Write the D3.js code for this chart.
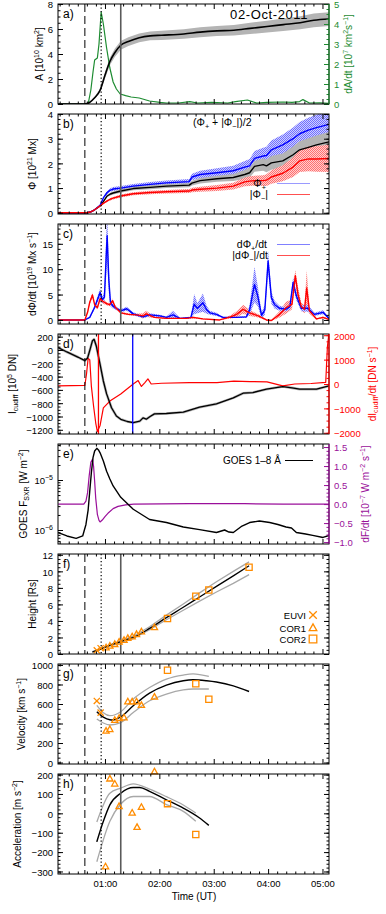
<!DOCTYPE html>
<html>
<head>
<meta charset="utf-8">
<style>
  body { margin: 0; background: #fff; }
  svg { display: block; font-family: "Liberation Sans", Arial, sans-serif; }
  .tick text { font-family: "Liberation Sans", Arial, sans-serif; font-size: 9.5px; }
  .ttl { font-size: 10px; }
  .tag { font-size: 12px; }
</style>
</head>
<body>
<svg id="chart" width="386" height="914"></svg>
<script src="https://d3js.org/d3.v7.min.js"></script>
<script>
// ---------------- data (times in hours UT, 02-Oct-2011) ----------------
const hourTicks = [1, 2, 3, 4, 5];
const hourLabels = ["01:00", "02:00", "03:00", "04:00", "05:00"];
const eventT = [0.63, 0.93, 1.29];        // dashed, dotted, solid grey
const dEventT = [0.63, 0.88, 1.51];       // dashed, red, blue (panel d)

// a) area A and dA/dt
const areaT = [0.14, 0.63, 0.71, 0.81, 0.91, 1.0, 1.09, 1.18, 1.29, 1.43, 1.63, 1.83, 2.04, 2.45, 2.75, 3.06, 3.37, 3.67, 3.98, 4.28, 4.59, 4.84, 5.12];
const areaA = [0, 0, 0.1, 0.5, 1.1, 2.3, 3.4, 4.1, 4.7, 5.0, 5.3, 5.45, 5.5, 5.6, 5.75, 5.85, 5.9, 6.05, 6.2, 6.35, 6.5, 6.7, 6.8];
const areaErr = [0, 0, 0.02, 0.08, 0.15, 0.25, 0.3, 0.33, 0.35, 0.35, 0.35, 0.35, 0.37, 0.38, 0.4, 0.4, 0.42, 0.45, 0.47, 0.5, 0.52, 0.55, 0.55];
const dadtT = [0.14, 0.69, 0.74, 0.78, 0.81, 0.86, 0.89, 0.93, 0.97, 1.03, 1.09, 1.15, 1.21, 1.28, 1.38, 1.48, 1.63, 1.82, 2.01, 2.13, 2.35, 2.56, 2.70, 2.96, 3.26, 3.40, 3.62, 3.79, 3.98, 4.28, 4.44, 4.58, 4.64, 4.76, 4.95, 5.12];
const dadtV = [0, 0, 0.7, 1.6, 2.2, 2.3, 3.0, 4.6, 4.0, 2.8, 1.8, 1.1, 0.75, 0.5, 0.42, 0.35, 0.3, 0.15, 0.08, 0.05, 0.05, 0.12, 0.05, 0.08, 0.05, 0.12, 0.2, 0.05, 0.08, 0.1, 0.08, 0.12, 0.22, 0.05, 0.06, 0.03];

// b) magnetic flux
const fluxT = [0.14, 0.67, 0.73, 0.81, 0.91, 0.97, 1.04, 1.10, 1.15, 1.29, 1.52, 1.83, 2.13, 2.55, 2.60, 2.75, 3.06, 3.36, 3.57, 3.66, 3.75, 3.91, 3.97, 4.06, 4.27, 4.46, 4.58, 4.74, 4.89, 5.12];
const fluxMean = [0, 0, 0.03, 0.12, 0.28, 0.45, 0.68, 0.76, 0.8, 0.88, 0.98, 1.03, 1.08, 1.12, 1.2, 1.3, 1.38, 1.43, 1.55, 1.62, 1.88, 1.95, 1.9, 2.02, 2.1, 2.35, 2.55, 2.65, 2.75, 2.87];
const fluxMeanErr = [0, 0, 0, 0.01, 0.02, 0.03, 0.05, 0.06, 0.06, 0.07, 0.07, 0.08, 0.08, 0.09, 0.1, 0.11, 0.12, 0.14, 0.18, 0.2, 0.22, 0.25, 0.26, 0.28, 0.3, 0.33, 0.35, 0.37, 0.38, 0.4];
const fluxPos = [0, 0, 0.03, 0.12, 0.3, 0.6, 0.82, 0.92, 0.96, 1.0, 1.08, 1.15, 1.21, 1.26, 1.45, 1.55, 1.62, 1.7, 1.85, 1.9, 2.2, 2.3, 2.32, 2.55, 2.75, 3.0, 3.2, 3.35, 3.45, 3.58];
const fluxPosErr = [0, 0, 0, 0.01, 0.02, 0.04, 0.06, 0.07, 0.08, 0.08, 0.09, 0.1, 0.1, 0.11, 0.13, 0.15, 0.18, 0.2, 0.25, 0.28, 0.3, 0.33, 0.35, 0.38, 0.42, 0.45, 0.48, 0.5, 0.52, 0.55];
const fluxNeg = [0, 0, 0.03, 0.12, 0.28, 0.38, 0.48, 0.55, 0.59, 0.68, 0.77, 0.82, 0.85, 0.88, 0.92, 0.95, 1.0, 1.08, 1.25, 1.28, 1.3, 1.3, 1.32, 1.45, 1.6, 1.85, 2.1, 2.18, 2.18, 2.2];
const fluxNegErr = [0, 0, 0, 0.01, 0.02, 0.03, 0.04, 0.05, 0.05, 0.06, 0.06, 0.07, 0.07, 0.08, 0.09, 0.1, 0.12, 0.14, 0.18, 0.2, 0.2, 0.22, 0.24, 0.27, 0.32, 0.4, 0.45, 0.5, 0.52, 0.55];

// c) flux rates
const ratePosT = [0.14, 0.63, 0.72, 0.81, 0.91, 0.95, 0.99, 1.02, 1.04, 1.07, 1.10, 1.14, 1.22, 1.29, 1.40, 1.52, 1.70, 1.82, 2.01, 2.13, 2.25, 2.38, 2.58, 2.64, 2.70, 2.80, 2.87, 2.93, 3.05, 3.17, 3.42, 3.60, 3.66, 3.75, 3.81, 3.88, 3.94, 4.00, 4.06, 4.12, 4.21, 4.33, 4.40, 4.46, 4.52, 4.61, 4.73, 4.85, 5.01, 5.12];
const ratePos = [0, 0, 0.5, 2.5, 5.4, 4.0, 4.5, 12, 16.6, 8, 3.5, 2.8, 2.2, 1.8, 2.2, 1.2, 0.6, 1.0, 0.8, 0.5, 1.0, 0.3, 0.5, 3.1, 2.3, 3.4, 2.0, 1.4, 1.1, 0.5, 0.5, 0.6, 2.0, 7.0, 4.7, 0.9, 2.0, 11.6, 4.4, 3.0, 2.3, 2.1, 2.6, 7.4, 4.7, 2.3, 2.3, 1.1, 1.5, 0.3];
const ratePosErr = [0, 0, 0.1, 0.4, 0.8, 0.6, 1.0, 4.0, 5.0, 2.5, 0.8, 0.5, 0.3, 0.3, 0.4, 0.3, 0.2, 0.3, 0.2, 0.2, 0.8, 0.1, 0.2, 2.0, 1.0, 1.8, 0.8, 0.4, 0.3, 0.1, 0.1, 0.2, 1.0, 3.5, 2.0, 0.6, 1.0, 2.0, 1.2, 0.8, 0.5, 0.4, 0.6, 1.0, 0.8, 0.6, 0.7, 0.3, 0.4, 0.1];
const rateNegT = [0.14, 0.63, 0.68, 0.72, 0.77, 0.81, 0.86, 0.91, 0.97, 1.03, 1.09, 1.14, 1.19, 1.29, 1.43, 1.58, 1.70, 1.76, 1.91, 2.13, 2.50, 2.62, 2.80, 3.11, 3.31, 3.42, 3.54, 3.66, 3.82, 3.97, 4.06, 4.21, 4.33, 4.44, 4.50, 4.55, 4.61, 4.67, 4.71, 4.76, 4.89, 5.01, 5.12];
const rateNeg = [0, 0, 1.5, 3.5, 4.9, 3.0, 2.4, 4.2, 3.6, 3.2, 3.0, 3.8, 2.5, 1.4, 1.1, 1.0, 0.8, 1.2, 0.5, 0.3, 0.3, 0.5, 0.2, 0.0, 0.6, 1.1, 2.1, 1.4, 0.8, 0.0, -0.1, 1.1, 2.4, 3.1, 8.7, 5.0, 2.6, 2.1, 6.3, 1.8, 0.2, 0.5, 0.1];
const rateNegErr = [0, 0, 0.2, 0.4, 0.5, 0.3, 0.3, 0.5, 0.4, 0.3, 0.3, 0.4, 0.3, 0.2, 0.2, 0.2, 0.5, 0.6, 0.1, 0.1, 0.1, 0.2, 0.1, 0.0, 0.3, 0.6, 0.9, 0.6, 0.3, 0.1, 0.1, 0.6, 1.2, 1.0, 1.2, 1.5, 0.8, 0.8, 3.5, 0.6, 0.1, 0.2, 0.1];

// d) coronal dimming intensity
const dimT = [0.14, 0.30, 0.51, 0.63, 0.68, 0.73, 0.77, 0.80, 0.84, 0.91, 0.97, 1.03, 1.12, 1.21, 1.29, 1.41, 1.52, 1.64, 1.70, 1.76, 1.83, 1.91, 2.13, 2.44, 2.74, 3.05, 3.36, 3.54, 3.72, 3.97, 4.27, 4.44, 4.58, 4.89, 5.12];
const dimI = [35, -30, -110, -160, -120, 20, 140, 160, 60, -215, -466, -660, -868, -993, -1042, -1075, -1093, -1070, -1020, -1040, -1000, -960, -955, -935, -860, -810, -720, -650, -640, -590, -550, -570, -590, -590, -540];
const dimRateT = [0.14, 0.63, 0.66, 0.69, 0.72, 0.75, 0.79, 0.83, 0.86, 0.91, 0.97, 1.09, 1.29, 1.52, 1.61, 1.67, 1.73, 1.79, 1.85, 2.04, 2.55, 3.06, 3.37, 3.67, 3.98, 4.27, 4.49, 4.79, 5.06, 5.09, 5.12];
const dimRate = [-80, -60, 400, 1050, 1000, -100, -900, -1600, -1950, -1700, -980, -700, -410, 0, 140, -100, 50, 210, 0, 30, 60, 60, 120, 100, 90, -80, 0, 20, 70, 1500, 2100];

// e) GOES flux and derivative
const goesT = [0.14, 0.30, 0.47, 0.59, 0.65, 0.69, 0.72, 0.75, 0.78, 0.81, 0.85, 0.88, 0.91, 0.97, 1.03, 1.09, 1.15, 1.29, 1.52, 1.82, 2.13, 2.44, 2.74, 3.05, 3.20, 3.28, 3.36, 3.52, 3.66, 3.84, 4.03, 4.18, 4.33, 4.43, 4.52, 4.69, 4.82, 5.01, 5.12];
const goesF = [8.9e-7, 7.6e-7, 6.8e-7, 7.6e-7, 1.29e-6, 2.5e-6, 6.0e-6, 1.41e-5, 2.8e-5, 3.8e-5, 4.3e-5, 4.0e-5, 3.5e-5, 2.4e-5, 1.5e-5, 1.05e-5, 7.6e-6, 4.5e-6, 2.6e-6, 1.62e-6, 1.41e-6, 1.15e-6, 1.02e-6, 8.9e-7, 1.0e-6, 9.1e-7, 8.9e-7, 1.2e-6, 1.41e-6, 1.51e-6, 1.41e-6, 1.29e-6, 1.15e-6, 1.1e-6, 8.9e-7, 8.3e-7, 7.8e-7, 7.1e-7, 7.8e-7];
const goesDT = [0.14, 0.61, 0.65, 0.68, 0.71, 0.74, 0.77, 0.79, 0.81, 0.83, 0.86, 0.89, 0.91, 0.95, 1.0, 1.07, 1.15, 1.24, 1.38, 1.53, 2.55, 3.57, 4.28, 5.12];
const goesD = [0, 0, 0.08, 0.3, 0.75, 1.1, 1.18, 1.0, 0.6, 0.15, -0.27, -0.43, -0.47, -0.42, -0.33, -0.22, -0.12, -0.06, -0.02, 0, 0.01, 0.01, 0, 0];

// f-h) CME kinematics
const euviT = [0.85, 0.92];
const euviH = [0.45, 0.7];
const euviV = [631, 511];
const cor1T = [1.02, 1.09, 1.18, 1.26, 1.35, 1.42, 1.50, 1.58, 1.67, 1.91];
const cor1H = [0.77, 0.97, 1.17, 1.45, 1.66, 1.9, 2.1, 2.38, 2.7, 3.2];
const cor1V = [323, 340, 433, 453, 460, 624, 624, 624, 587, 672];
const cor2T = [2.15, 2.67, 2.91, 3.65];
const cor2H = [4.3, 7.0, 7.75, 10.5];
const cor2VT = [2.15, 2.67, 2.91];
const cor2V = [946, 808, 648];
const cor1AccT = [1.01, 1.09, 1.18, 1.26, 1.50, 1.59, 1.67, 1.91];
const cor1Acc = [-275, 178, 152, 36, 2, -72, 32, 215];
const cor2AccT = [2.15, 2.67];
const cor2Acc = [50, -109];

const fitHT = [0.77, 0.92, 1.07, 1.29, 1.52, 1.82, 2.13, 2.44, 2.74, 3.05, 3.36, 3.65];
const fitH = [0.24, 0.6, 1.0, 1.5, 2.0, 3.1, 4.4, 5.65, 6.9, 8.18, 9.45, 10.67];
const fitHUp = [0.28, 0.65, 1.07, 1.6, 2.15, 3.3, 4.7, 6.05, 7.4, 8.75, 10.0, 11.15];
const fitHLo = [0.2, 0.55, 0.93, 1.4, 1.87, 2.95, 4.15, 5.3, 6.4, 7.5, 8.55, 9.6];
const fitVT = [0.85, 0.97, 1.09, 1.14, 1.29, 1.52, 1.82, 2.13, 2.44, 2.62, 2.87, 3.05, 3.36, 3.65];
const fitV = [521, 465, 438, 436, 467, 582, 711, 793, 838, 848, 838, 825, 786, 728];
const fitVBT = [0.85, 0.97, 1.09, 1.29, 1.52, 1.82, 2.13, 2.44, 2.62, 2.91];
const fitVUp = [586, 510, 480, 521, 651, 769, 856, 897, 908, 882];
const fitVLo = [446, 405, 385, 410, 513, 633, 702, 745, 754, 754];
const fitAT = [0.85, 0.97, 1.09, 1.29, 1.52, 1.64, 1.82, 2.13, 2.44, 2.74, 2.91];
const fitA = [-147, -41, 44, 104, 133, 133, 113, 70, 27, -24, -62];
const fitABT = [0.85, 1.09, 1.29, 1.52, 1.82, 2.13, 2.44, 2.67];
const fitAUp = [-45, 104, 130, 152, 125, 86, 43, 2];
const fitALo = [-250, -41, 48, 87, 87, 45, 10, -41];

// ---------------- layout ----------------
const left = 58, right = 329, panelH = 100;
const panelTop = i => 4 + 110 * i;
const orange = "#ff8c00";
const x = d3.scaleLinear().domain([0.136, 5.12]).range([left, right]);
const xMinor = d3.range(1, 31).map(k => k / 6).filter(v => v > 0.136 && v < 5.12 && Math.abs(v - Math.round(v)) > 0.01);

const svg = d3.select("#chart");
const defs = svg.append("defs");

function checker(id, bg, fg) {
  const p = defs.append("pattern").attr("id", id).attr("width", 2).attr("height", 2)
    .attr("patternUnits", "userSpaceOnUse");
  p.append("rect").attr("width", 2).attr("height", 2).attr("fill", bg);
  p.append("rect").attr("width", 1).attr("height", 1).attr("fill", fg);
  p.append("rect").attr("x", 1).attr("y", 1).attr("width", 1).attr("height", 1).attr("fill", fg);
}
checker("hatchBlue", "#cfcfff", "#7070ff");
checker("hatchRed", "#ffcfcf", "#ff7070");

function makePanel(i, domain, log) {
  const t = panelTop(i), b = t + panelH;
  const y = (log ? d3.scaleLog() : d3.scaleLinear()).domain(domain).range([b, t]);
  const g = svg.append("g");
  defs.append("clipPath").attr("id", "clip" + i).append("rect")
    .attr("x", left).attr("y", t).attr("width", right - left).attr("height", panelH);
  const plot = g.append("g").attr("clip-path", `url(#clip${i})`);
  return { i, t, b, y, g, plot };
}

function drawLine(p, T, V, color, width, scale, curve) {
  const y = scale || p.y;
  const gen = d3.line().x(k => x(T[k])).y(k => y(V[k])).curve(curve || d3.curveLinear);
  p.plot.append("path").attr("d", gen(d3.range(T.length)))
    .attr("fill", "none").attr("stroke", color).attr("stroke-width", width)
    .attr("stroke-linejoin", "round");
}

function drawBand(p, T, V, E, fill, scale) {
  const y = scale || p.y;
  const gen = d3.area().x(k => x(T[k])).y0(k => y(V[k] - E[k])).y1(k => y(V[k] + E[k]));
  p.plot.append("path").attr("d", gen(d3.range(T.length))).attr("fill", fill);
}

function vline(p, t, color, dash, width) {
  p.g.append("line").attr("x1", x(t)).attr("x2", x(t)).attr("y1", p.t).attr("y2", p.b)
    .attr("stroke", color).attr("stroke-width", width || 1).attr("stroke-dasharray", dash || null);
}
function events(p) {
  vline(p, eventT[0], "#000", "8,4", 1);
  vline(p, eventT[1], "#000", "1.3,2.2", 1.2);
  vline(p, eventT[2], "#5a5a5a", null, 1.6);
}

function rich(sel, parts, fs) {
  let shift = 0;
  parts.forEach(([s, m]) => {
    const target = m === "sup" ? -0.4 * fs : m === "sub" ? 0.28 * fs : 0;
    sel.append("tspan").attr("dy", target - shift).attr("font-size", m ? fs * 0.7 : fs).text(s);
    shift = target;
  });
}

function vTitle(cx, cy, parts, color) {
  const t = svg.append("text").attr("class", "ttl")
    .attr("transform", `translate(${cx + 3.5},${cy}) rotate(-90)`)
    .attr("text-anchor", "middle").attr("fill", color || "#000");
  rich(t, parts, 10);
}

function yAxis(p, scale, side, major, minor, fmt, color) {
  const pos = side === "left" ? left : right;
  const mk = side === "left" ? d3.axisLeft : d3.axisRight;
  const g1 = p.g.append("g").attr("transform", `translate(${pos},0)`).attr("color", color || "#000");
  g1.call(mk(scale).tickValues(major).tickSize(-5).tickPadding(5).tickFormat(fmt || (() => "")));
  g1.select(".domain").remove();
  g1.selectAll("text").attr("fill", color || "#000").attr("dy", "0.4em");
  const g2 = p.g.append("g").attr("transform", `translate(${pos},0)`).attr("color", color || "#000");
  g2.call(mk(scale).tickValues(minor).tickSize(-2.5).tickFormat(() => ""));
  g2.select(".domain").remove();
  return g1;
}

function frame(p, o) {
  const mirror = !o.rScale;
  yAxis(p, p.y, "left", o.major, o.minor, o.fmt);
  if (mirror) yAxis(p, p.y, "right", o.major, o.minor);
  else yAxis(p, o.rScale, "right", o.rMajor, o.rMinor, o.rFmt, o.rColor);
  [["bottom", p.b], ["top", p.t]].forEach(([side, pos]) => {
    const mk = side === "bottom" ? d3.axisBottom : d3.axisTop;
    const g1 = p.g.append("g").attr("transform", `translate(0,${pos})`);
    g1.call(mk(x).tickValues(hourTicks).tickSize(-5).tickPadding(6)
      .tickFormat((d, k) => (side === "bottom" && o.xLabels) ? hourLabels[k] : ""));
    g1.select(".domain").remove();
    const g2 = p.g.append("g").attr("transform", `translate(0,${pos})`);
    g2.call(mk(x).tickValues(xMinor).tickSize(-2.5).tickFormat(() => ""));
    g2.select(".domain").remove();
  });
  p.g.append("rect").attr("x", left).attr("y", p.t).attr("width", right - left).attr("height", panelH)
    .attr("fill", "none").attr("stroke", "#000").attr("stroke-width", 1);
  if (!mirror) {
    p.g.append("line").attr("x1", right).attr("x2", right).attr("y1", p.t).attr("y2", p.b)
      .attr("stroke", o.rColor).attr("stroke-width", 1.2);
  }
  p.g.append("text").attr("class", "tag").attr("x", 63).attr("y", p.t + 14).text(o.tag);
}

const fInt = d3.format("d");

// ---------------- a) ----------------
{
  const p = makePanel(0, [0, 8]);
  const yR = d3.scaleLinear().domain([0, 5]).range([p.b, p.t]);
  const green = "#1e8c32";
  drawBand(p, areaT, areaA, areaErr, "#b4b4b4");
  drawLine(p, dadtT, dadtV, green, 1.2, yR);
  drawLine(p, areaT, areaA, "#000", 1.6, null, d3.curveMonotoneX);
  events(p);
  frame(p, { major: [0, 2, 4, 6, 8], minor: d3.range(0, 8.01, 0.5), fmt: fInt,
    rScale: yR, rMajor: [0, 1, 2, 3, 4, 5], rMinor: d3.range(0, 5.01, 0.25), rFmt: fInt, rColor: green, tag: "a)" });
  svg.append("text").attr("x", 308).attr("y", p.t + 15).attr("text-anchor", "end")
    .attr("font-size", 13).attr("letter-spacing", 0.6).text("02-Oct-2011");
  vTitle(39, (p.t + p.b) / 2, [["A ["], ["10"], ["10", "sup"], [" km"], ["2", "sup"], ["]"]]);
  vTitle(348, (p.t + p.b) / 2, [["dA/dt ["], ["10"], ["7", "sup"], [" km"], ["2", "sup"], ["s"], ["−1", "sup"], ["]"]], green);
}

// ---------------- b) ----------------
{
  const p = makePanel(1, [-0.05, 4.0]);
  drawBand(p, fluxT, fluxPos, fluxPosErr, "url(#hatchBlue)");
  drawBand(p, fluxT, fluxMean, fluxMeanErr, "#b4b4b4");
  drawBand(p, fluxT, fluxNeg, fluxNegErr, "url(#hatchRed)");
  drawLine(p, fluxT, fluxMean, "#000", 1.4);
  drawLine(p, fluxT, fluxPos, "#0000ff", 1.4);
  drawLine(p, fluxT, fluxNeg, "#ff0000", 1.4);
  events(p);
  frame(p, { major: [0, 1, 2, 3, 4], minor: d3.range(0, 4.01, 0.2), fmt: fInt, tag: "b)" });
  const l1 = svg.append("text").attr("x", 193).attr("y", p.t + 12);
  rich(l1, [["(Φ"], ["+", "sub"], [" + |Φ"], ["−", "sub"], ["|)/2"]], 10.5);
  const l2 = svg.append("text").attr("x", 266).attr("y", p.t + 73).attr("text-anchor", "end");
  rich(l2, [["Φ"], ["+", "sub"]], 10.5);
  const l3 = svg.append("text").attr("x", 268).attr("y", p.t + 84).attr("text-anchor", "end");
  rich(l3, [["|Φ"], ["−", "sub"], ["|"]], 10.5);
  svg.append("line").attr("x1", 277).attr("x2", 310).attr("y1", p.t + 69.5).attr("y2", p.t + 69.5).attr("stroke", "#9a9aff");
  svg.append("line").attr("x1", 277).attr("x2", 310).attr("y1", p.t + 80.5).attr("y2", p.t + 80.5).attr("stroke", "#ff5050");
  vTitle(32, (p.t + p.b) / 2, [["Φ ["], ["10"], ["21", "sup"], [" Mx]"]]);
}

// ---------------- c) ----------------
{
  const p = makePanel(2, [-0.8, 18.9]);
  drawBand(p, rateNegT, rateNeg, rateNegErr, "url(#hatchRed)");
  drawBand(p, ratePosT, ratePos, ratePosErr, "url(#hatchBlue)");
  drawLine(p, ratePosT, ratePos, "#0000ff", 1.4);
  drawLine(p, rateNegT, rateNeg, "#ff0000", 1.4);
  events(p);
  frame(p, { major: [0, 5, 10, 15], minor: d3.range(0, 18.5, 1), fmt: fInt, tag: "c)" });
  const l1 = svg.append("text").attr("x", 267).attr("y", p.t + 24).attr("text-anchor", "end");
  rich(l1, [["dΦ"], ["+", "sub"], ["/dt"]], 10.5);
  const l2 = svg.append("text").attr("x", 268).attr("y", p.t + 35).attr("text-anchor", "end");
  rich(l2, [["|dΦ"], ["−", "sub"], ["|/dt"]], 10.5);
  svg.append("line").attr("x1", 277).attr("x2", 310).attr("y1", p.t + 20.5).attr("y2", p.t + 20.5).attr("stroke", "#8080ff");
  svg.append("line").attr("x1", 277).attr("x2", 310).attr("y1", p.t + 31.5).attr("y2", p.t + 31.5).attr("stroke", "#ff5050");
  vTitle(32, (p.t + p.b) / 2, [["dΦ/dt ["], ["10"], ["19", "sup"], [" Mx s"], ["−1", "sup"], ["]"]]);
}

// ---------------- d) ----------------
{
  const p = makePanel(3, [-1263, 240]);
  const yR = d3.scaleLinear().domain([-2050, 2050]).range([p.b, p.t]);
  drawLine(p, dimT, dimI, "#b4b4b4", 2.6);
  drawLine(p, dimRateT, dimRate, "#ff0000", 1.2, yR);
  drawLine(p, dimT, dimI, "#000", 1.3);
  vline(p, dEventT[0], "#000", "8,4", 1);
  vline(p, dEventT[1], "#ff0000", null, 1.3);
  vline(p, dEventT[2], "#0000ff", null, 1.3);
  frame(p, { major: d3.range(-1200, 201, 200), minor: d3.range(-1250, 240, 50), fmt: d3.format("d"),
    rScale: yR, rMajor: [-2000, -1000, 0, 1000, 2000], rMinor: d3.range(-2000, 2001, 250), rFmt: d3.format("d"),
    rColor: "#ff0000", tag: "d)" });
  vTitle(12, (p.t + p.b) / 2, [["I"], ["cudiff", "sub"], [" ["], ["10"], ["5", "sup"], [" DN]"]]);
  vTitle(372, (p.t + p.b) / 2, [["dI"], ["cudiff", "sub"], ["/dt [DN s"], ["−1", "sup"], ["]"]], "#ff0000");
}

// ---------------- e) ----------------
{
  const p = makePanel(4, [5.25e-7, 5.25e-5], true);
  const yR = d3.scaleLinear().domain([-1.05, 1.58]).range([p.b, p.t]);
  const purple = "#9a0f9a";
  drawLine(p, goesDT, goesD, purple, 1.2, yR);
  drawLine(p, goesT, goesF, "#000", 1.4);
  const logMinor = [];
  [1e-7, 1e-6, 1e-5].forEach(dec => d3.range(1, 10).forEach(m => logMinor.push(m * dec)));
  frame(p, { major: [1e-6, 1e-5], minor: logMinor.filter(v => v > 5.25e-7 && v < 5.25e-5),
    fmt: () => "", rScale: yR, rMajor: [-1.0, -0.5, 0, 0.5, 1.0, 1.5], rMinor: d3.range(-1.0, 1.55, 0.1),
    rFmt: d3.format(".1f"), rColor: purple, tag: "e)" });
  [[1e-6, "−6"], [1e-5, "−5"]].forEach(([v, ex]) => {
    const t = svg.append("text").attr("x", left - 5).attr("y", p.y(v) + 3.5).attr("text-anchor", "end")
      .attr("font-size", 9.5);
    t.append("tspan").text("10");
    t.append("tspan").attr("dy", -4).attr("font-size", 7).text(ex);
  });
  svg.append("text").attr("x", 223).attr("y", p.t + 20).attr("font-size", 10).text("GOES 1–8 Å");
  svg.append("line").attr("x1", 285).attr("x2", 313).attr("y1", p.t + 16.5).attr("y2", p.t + 16.5).attr("stroke", "#000");
  vTitle(23, (p.t + p.b) / 2, [["GOES F"], ["SXR", "sub"], [" [W m"], ["−2", "sup"], ["]"]]);
  vTitle(365, (p.t + p.b) / 2, [["dF/dt ["], ["10"], ["−7", "sup"], [" W m"], ["−2", "sup"], [" s"], ["−1", "sup"], ["]"]], purple);
}

// ---------------- markers ----------------
const shapes = {
  cross: s => `M${-s},${-s}L${s},${s}M${s},${-s}L${-s},${s}`,
  tri: s => `M0,${-s * 1.1}L${s},${s * 0.7}L${-s},${s * 0.7}Z`,
  square: s => `M${-s},${-s}H${s}V${s}H${-s}Z`
};
function drawMarkers(p, T, V, shape) {
  const g = p.g.append("g").attr("stroke", orange).attr("fill", "none").attr("stroke-width", 1.3);
  T.forEach((t, k) => {
    g.append("path").attr("d", shapes[shape](3.1)).attr("transform", `translate(${x(t)},${p.y(V[k])})`);
  });
}

// ---------------- f) ----------------
{
  const p = makePanel(5, [0, 12.1]);
  drawLine(p, fitHT, fitHUp, "#a8a8a8", 1.3);
  drawLine(p, fitHT, fitHLo, "#a8a8a8", 1.3);
  drawLine(p, fitHT, fitH, "#000", 1.3, null, d3.curveMonotoneX);
  events(p);
  drawMarkers(p, euviT, euviH, "cross");
  drawMarkers(p, cor1T, cor1H, "tri");
  drawMarkers(p, cor2T, cor2H, "square");
  frame(p, { major: [0, 2, 4, 6, 8, 10, 12], minor: d3.range(0, 12.01, 0.5), fmt: fInt, tag: "f)" });
  [["EUVI", "cross", 61], ["COR1", "tri", 74], ["COR2", "square", 85]].forEach(([lab, sh, dy]) => {
    svg.append("text").attr("x", 306).attr("y", p.t + dy + 3.5).attr("text-anchor", "end")
      .attr("font-size", 9.5).text(lab);
    svg.append("path").attr("d", shapes[sh](3.8)).attr("transform", `translate(313,${p.t + dy})`)
      .attr("stroke", orange).attr("fill", "none").attr("stroke-width", 1.3);
  });
  vTitle(32, (p.t + p.b) / 2, [["Height [Rs]"]]);
}

// ---------------- g) ----------------
{
  const p = makePanel(6, [-15, 1010]);
  drawLine(p, fitVBT, fitVUp, "#a8a8a8", 1.3, null, d3.curveMonotoneX);
  drawLine(p, fitVBT, fitVLo, "#a8a8a8", 1.3, null, d3.curveMonotoneX);
  drawLine(p, fitVT, fitV, "#000", 1.4, null, d3.curveMonotoneX);
  events(p);
  drawMarkers(p, euviT, euviV, "cross");
  drawMarkers(p, cor1T, cor1V, "tri");
  drawMarkers(p, cor2VT, cor2V, "square");
  frame(p, { major: [0, 200, 400, 600, 800, 1000], minor: d3.range(0, 1001, 50), fmt: fInt, tag: "g)" });
  vTitle(21, (p.t + p.b) / 2, [["Velocity [km s"], ["−1", "sup"], ["]"]]);
}

// ---------------- h) ----------------
{
  const p = makePanel(7, [-313, 203]);
  drawLine(p, fitABT, fitAUp, "#a8a8a8", 1.3, null, d3.curveMonotoneX);
  drawLine(p, fitABT, fitALo, "#a8a8a8", 1.3, null, d3.curveMonotoneX);
  drawLine(p, fitAT, fitA, "#000", 1.4, null, d3.curveMonotoneX);
  events(p);
  drawMarkers(p, cor1AccT, cor1Acc, "tri");
  drawMarkers(p, cor2AccT, cor2Acc, "square");
  frame(p, { major: [-300, -200, -100, 0, 100, 200], minor: d3.range(-300, 201, 20), fmt: fInt, tag: "h)", xLabels: true });
  vTitle(17, (p.t + p.b) / 2, [["Acceleration [m s"], ["−2", "sup"], ["]"]]);
  svg.append("text").attr("x", 194).attr("y", p.b + 26).attr("text-anchor", "middle")
    .attr("font-size", 10).text("Time (UT)");
}
</script>
</body>
</html>
